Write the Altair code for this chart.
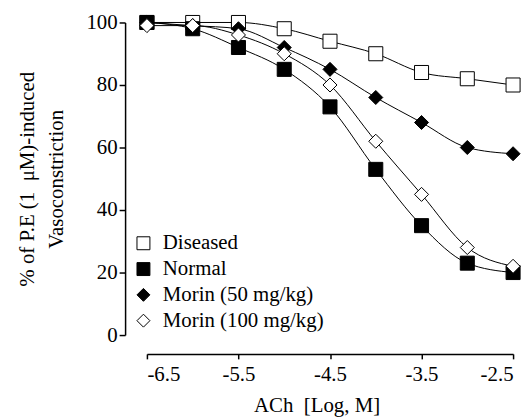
import altair as alt
import pandas as pd

log_conc = [-6.5, -6.0, -5.5, -5.0, -4.5, -4.0, -3.5, -3.0, -2.5]
groups = ["Diseased", "Normal", "Morin (50 mg/kg)", "Morin (100 mg/kg)"]
diseased = [100, 100, 100, 98, 94, 90, 84, 82, 80]
normal = [100, 98, 92, 85, 73, 53, 35, 23, 20]
morin50 = [100, 99, 98, 92, 85, 76, 68, 60, 58]
morin100 = [99, 99, 96, 90, 80, 62, 45, 28, 22]
x_ticks = [-6.5, -5.5, -4.5, -3.5, -2.5]
y_ticks = [0, 20, 40, 60, 80, 100]

rows = []
for g, vals in zip(groups, [diseased, normal, morin50, morin100]):
    for i, (x, v) in enumerate(zip(log_conc, vals)):
        rows.append({"group": g, "x": x, "y": v, "order": i})
df = pd.DataFrame(rows)

FONT = "Liberation Serif"
FS = 21

xenc = alt.X("x:Q", scale=alt.Scale(domain=[-6.5, -2.5], nice=False, zero=False),
             axis=alt.Axis(values=x_ticks, labelExpr="replace(format(datum.value, '.1f'), '\u2212', '-')",
                           title="ACh\u00a0\u00a0[Log, M]", titleX=171,
                           offset=19, tickSize=5, labelPadding=5, grid=False,
                           titlePadding=10))
yenc = alt.Y("y:Q", scale=alt.Scale(domain=[0, 100], nice=False),
             axis=alt.Axis(values=y_ticks, title=["% of P.E (1\u00a0\u00a0μM)-induced", "Vasoconstriction"],
                           offset=22, tickSize=6, labelPadding=2, grid=False,
                           titlePadding=20, titleLineHeight=29))

lines = alt.Chart(df).mark_line(interpolate="monotone", color="black", strokeWidth=1).encode(
    x=xenc, y=yenc, detail="group:N", order="order:Q"
)

leg = alt.Legend(title=None, orient="none", legendX=-14, legendY=212, labelLimit=400)
points = alt.Chart(df).mark_point(filled=False, strokeWidth=1, size=200, opacity=1).encode(
    x="x:Q", y="y:Q",
    shape=alt.Shape("group:N", scale=alt.Scale(domain=groups, range=["square", "square", "diamond", "diamond"]),
                    legend=leg),
    fill=alt.Fill("group:N", scale=alt.Scale(domain=groups, range=["white", "black", "black", "white"]),
                  legend=leg),
    stroke=alt.Stroke("group:N", scale=alt.Scale(domain=groups, range=["black", "black", "black", "black"]),
                      legend=leg),
)

chart = alt.layer(lines, points).properties(
    width=369, height=315,
    background="white",
    autosize=alt.AutoSizeParams(type="none"),
    padding={"left": 140, "top": 13, "right": 10, "bottom": 82},
).configure_view(stroke=None).configure_axis(
    labelFont=FONT, titleFont=FONT, labelFontSize=FS, titleFontSize=FS,
    labelColor="black", titleColor="black", domainColor="black", tickColor="black",
    titleFontWeight="normal", domainWidth=1.5, tickWidth=1.5,
).configure_legend(
    labelFont=FONT, labelFontSize=FS, labelColor="black", symbolSize=170,
    symbolStrokeWidth=1, rowPadding=4, labelOffset=9, labelLimit=400,
)

chart.save("out.html", embed_options={"renderer": "svg", "actions": False})
